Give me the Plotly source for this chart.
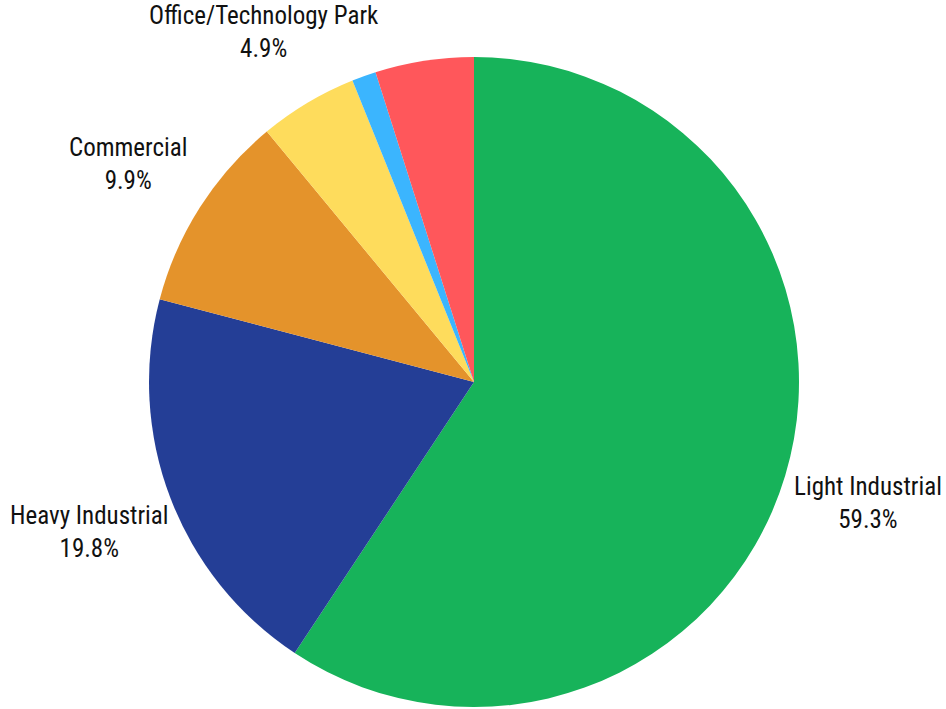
import math
import plotly.graph_objects as go

categories = ["Light Industrial", "Heavy Industrial", "Commercial", "Office/Technology Park", "Other (small)", "Other"]
values = [59.3, 19.8, 9.9, 4.9, 1.2, 4.9]
show_label = [True, True, True, True, False, False]
colors = ["#17B35A", "#243E96", "#E4932B", "#FEDC5C", "#3BB5FE", "#FF575B"]

W, H = 946, 709
DOM_X = [149 / W, 799 / W]
DOM_Y = [2 / H, 652 / H]
LABEL_DIST = 1.265  # label centre distance, in pie radii
FONT = dict(family="Roboto Condensed, Liberation Sans Narrow, Roboto", size=25, color="#111111")

fig = go.Figure(go.Pie(
    labels=categories,
    values=values,
    textinfo="none",
    sort=False,
    direction="clockwise",
    rotation=0,
    automargin=False,
    marker=dict(colors=colors, line=dict(width=0)),
    domain=dict(x=DOM_X, y=DOM_Y),
    showlegend=False,
    hoverinfo="label+percent",
))

# labels placed at each slice's mid-angle, outside the pie
r_px = min((DOM_X[1] - DOM_X[0]) * W, (DOM_Y[1] - DOM_Y[0]) * H) / 2
cx = (DOM_X[0] + DOM_X[1]) / 2
cy = (DOM_Y[0] + DOM_Y[1]) / 2
total = sum(values)
cum = 0.0
for c, v, s in zip(categories, values, show_label):
    mid = (cum + v / 2) / total * 2 * math.pi
    cum += v
    if not s:
        continue
    d = LABEL_DIST * r_px
    fig.add_annotation(
        x=cx + d * math.sin(mid) / W,
        y=cy + d * math.cos(mid) / H,
        xref="paper", yref="paper",
        text=f"{c}<br>{v / total * 100:.1f}%",
        showarrow=False,
        xanchor="center", yanchor="middle",
        yshift=-3,
        font=FONT,
    )

fig.update_layout(
    width=W, height=H,
    margin=dict(l=0, r=0, t=0, b=0, autoexpand=False),
    paper_bgcolor="white",
    plot_bgcolor="white",
)
fig.write_html(
    "out.html",
    config={"displayModeBar": False},
    post_script="document.body.style.margin='0';document.body.style.overflow='hidden';",
)
